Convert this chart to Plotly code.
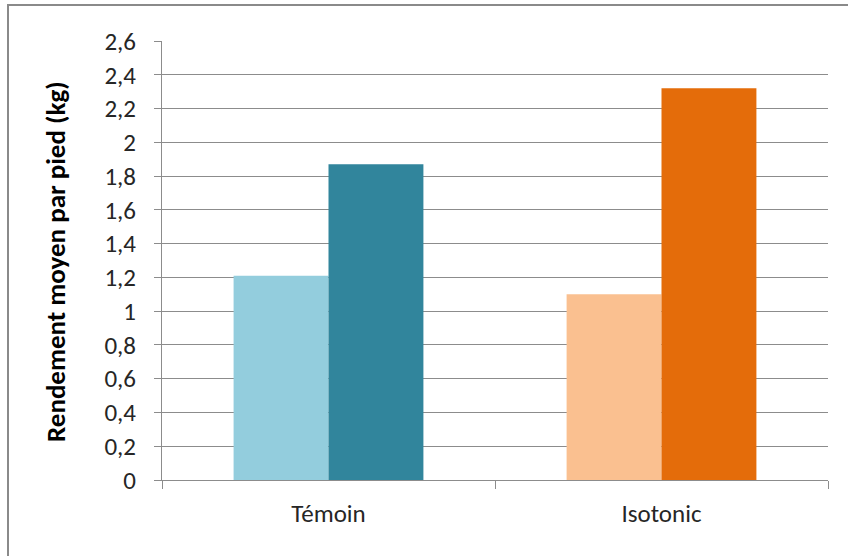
import plotly.graph_objects as go

categories = ["Témoin", "Isotonic"]
series_a = [1.21, 1.10]
series_b = [1.87, 2.32]
colors_a = ["#93CDDD", "#FAC090"]
colors_b = ["#31859C", "#E46C0A"]
y_title = "Rendement moyen par pied (kg)"

FONT = "Carlito, Lato, sans-serif"
GRAY = "#8C8C8C"

fig = go.Figure()
fig.add_trace(go.Bar(x=categories, y=series_a, marker=dict(color=colors_a, line=dict(width=0)),
                     showlegend=False, hoverinfo="x+y"))
fig.add_trace(go.Bar(x=categories, y=series_b, marker=dict(color=colors_b, line=dict(width=0)),
                     showlegend=False, hoverinfo="x+y"))

W, H = 848, 556
ml, mr, mt, mb = 162, 20, 41, 76
pw, ph = W - ml - mr, H - mt - mb

def px_x(p):
    return (p - ml) / pw

def px_y(p):
    return (H - mb - p) / ph

fig.update_layout(
    width=W, height=H,
    margin=dict(l=ml, r=mr, t=mt, b=mb, pad=0),
    paper_bgcolor="white", plot_bgcolor="white",
    barmode="group", bargap=0.43, bargroupgap=0,
    separators=", ",
    font=dict(family=FONT, color="#404040", size=25),
    xaxis=dict(
        showgrid=False, showline=True, linecolor=GRAY, linewidth=1,
        ticks="outside", ticklen=8, tickcolor=GRAY, tickson="boundaries",
        tickfont=dict(size=25, color="#262626"), ticklabelstandoff=11,
    ),
    yaxis=dict(
        range=[0, 2.6], dtick=0.2, tick0=0,
        showgrid=True, gridcolor=GRAY, gridwidth=1,
        showline=True, linecolor=GRAY, linewidth=1,
        ticks="outside", ticklen=7, tickcolor=GRAY,
        tickfont=dict(size=25, color="#262626"), ticklabelstandoff=13,
        zeroline=False,
    ),
    annotations=[
        dict(text="<b>" + y_title + "</b>", xref="paper", yref="paper",
             x=px_x(55), y=px_y(262), xanchor="center", yanchor="middle",
             textangle=-90, showarrow=False,
             font=dict(size=27, color="#000000", family=FONT)),
    ],
    shapes=[
        dict(type="line", xref="paper", yref="paper", x0=px_x(8), x1=px_x(8), y0=px_y(5), y1=px_y(H + 5),
             line=dict(color="#8A8A8A", width=2)),
        dict(type="line", xref="paper", yref="paper", x0=px_x(7), x1=px_x(W + 5), y0=px_y(5), y1=px_y(5),
             line=dict(color="#8A8A8A", width=2)),
    ],
)

fig.write_html("out.html")
